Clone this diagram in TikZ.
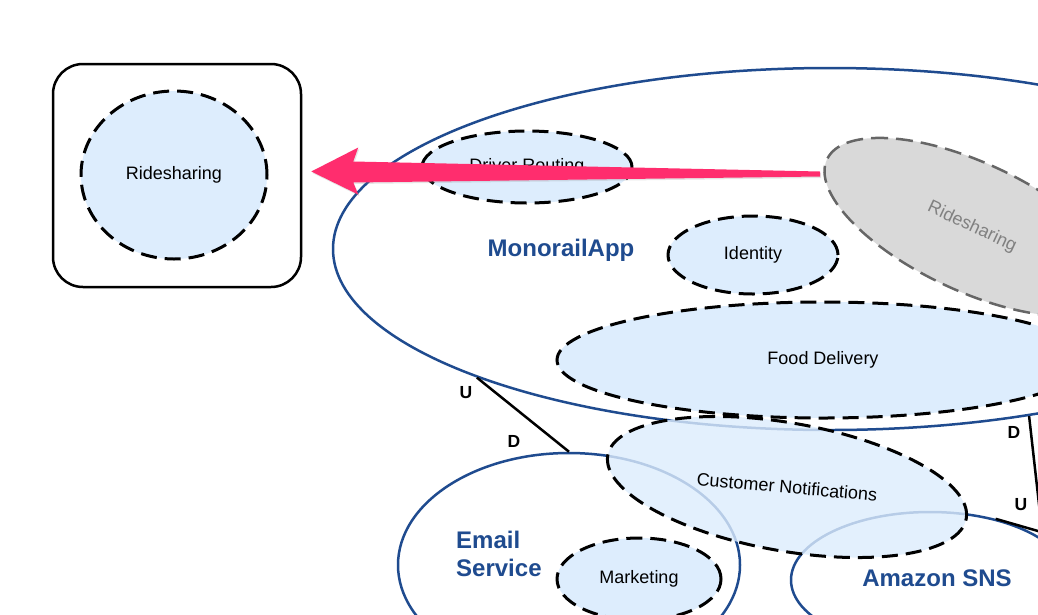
\documentclass[tikz,border=0pt]{standalone}
\usepackage{fontspec}
\setmainfont{Liberation Sans}
\usepackage{xcolor}
\usepackage{tikz}
\usetikzlibrary{shapes.geometric,calc,shadows}

\definecolor{ctxblue}{RGB}{31,75,143}
\definecolor{subfill}{RGB}{221,237,253}
\definecolor{oldfill}{RGB}{217,217,217}
\definecolor{oldline}{RGB}{102,102,102}
\definecolor{oldtext}{RGB}{128,128,128}
\definecolor{movepink}{RGB}{255,45,110}

\begin{document}
\begin{tikzpicture}[x=1pt,y=1pt,yscale=-1,xscale=1,
    ctx/.style={ellipse,draw=ctxblue,line width=2.5pt,inner sep=0pt},
    ctxname/.style={font=\bfseries\fontsize{24}{28}\selectfont,text=ctxblue,align=left,inner sep=0pt},
    sub/.style={ellipse,draw=black,line width=3pt,dash pattern=on 16pt off 8pt,fill=subfill,inner sep=0pt,font=\fontsize{18}{20}\selectfont},
    ud/.style={font=\bfseries\fontsize{17.5}{20}\selectfont,inner sep=0pt},
    link/.style={draw=black,line width=2.5pt}]

    \useasboundingbox (0,0) rectangle (1038,614);
    \fill[white] (0,0) rectangle (1038,614);
    \clip (0,0) rectangle (1038,614);

    % bounded contexts
    \node[ctx,minimum width=994,minimum height=362] (monorail) at (830,249) {};
    \node[ctx,minimum width=342,minimum height=224] (email) at (569,565) {};
    \node[ctx,minimum width=278,minimum height=136] (sns) at (930,580) {};

    \node[draw,line width=2.5pt,rounded corners=30pt,minimum width=248,minimum height=223] (rbox) at (177,175.5) {};

    % relationships
    \draw[link] (monorail.200) -- (email.90);
    \draw[link] (monorail.320) -- (sns.20);
    \coordinate (snsout) at (1090,546);
    \draw[link] (sns.43) -- (snsout);

    \node[ud] (u1) at (466,393) {U};
    \node[ud] (d1) at (514,441) {D};
    \node[ud] (d2) at (1014,432) {D};
    \node[ud] (u2) at (1021,505) {U};

    % subdomains
    \node[sub,minimum width=186,minimum height=168] (ride) at (174,175) {Ridesharing};
    \node[sub,minimum width=210,minimum height=72] (routing) at (527,167) {Driver Routing};
    \node[sub,minimum width=170,minimum height=78] (identity) at (753,255) {Identity};
    \node[sub,draw=oldline,fill=oldfill,text=oldtext,line width=2.5pt,dash pattern=on 17pt off 8pt,
          rotate=-25,minimum width=320,minimum height=128] (oldride) at (972,227) {Ridesharing};
    \node[sub,minimum width=532,minimum height=116] (food) at (823,360) {Food Delivery};
    \node[sub,fill opacity=0.8,text opacity=1,rotate=-10,minimum width=364,minimum height=128] (notif) at (787,487) {\rotatebox{5}{Customer Notifications}};
    \node[sub,minimum width=164,minimum height=82] (marketing) at (639,579) {Marketing};

    \node[ctxname] (mononame) at (561,250) {MonorailApp};
    \node[ctxname,anchor=west] (emailname) at (456,554) {Email\\Service};
    \node[ctxname] (snsname) at (937,578) {Amazon SNS};

    % move arrow
    \coordinate (tip) at ($(rbox.east)+(9,-4)$);
    \coordinate (tail) at (820,174);
    \fill[movepink,drop shadow={opacity=0.2,shadow xshift=1pt,shadow yshift=-1.5pt}]
        (tip) -- ++(47,-24) -- ++(-5,14) -- ($(tail)+(0,-2.5)$) -- ($(tail)+(0,2.5)$)
        -- ($(tip)+(42,11)$) -- ++(5,12) -- cycle;

\end{tikzpicture}
\end{document}
